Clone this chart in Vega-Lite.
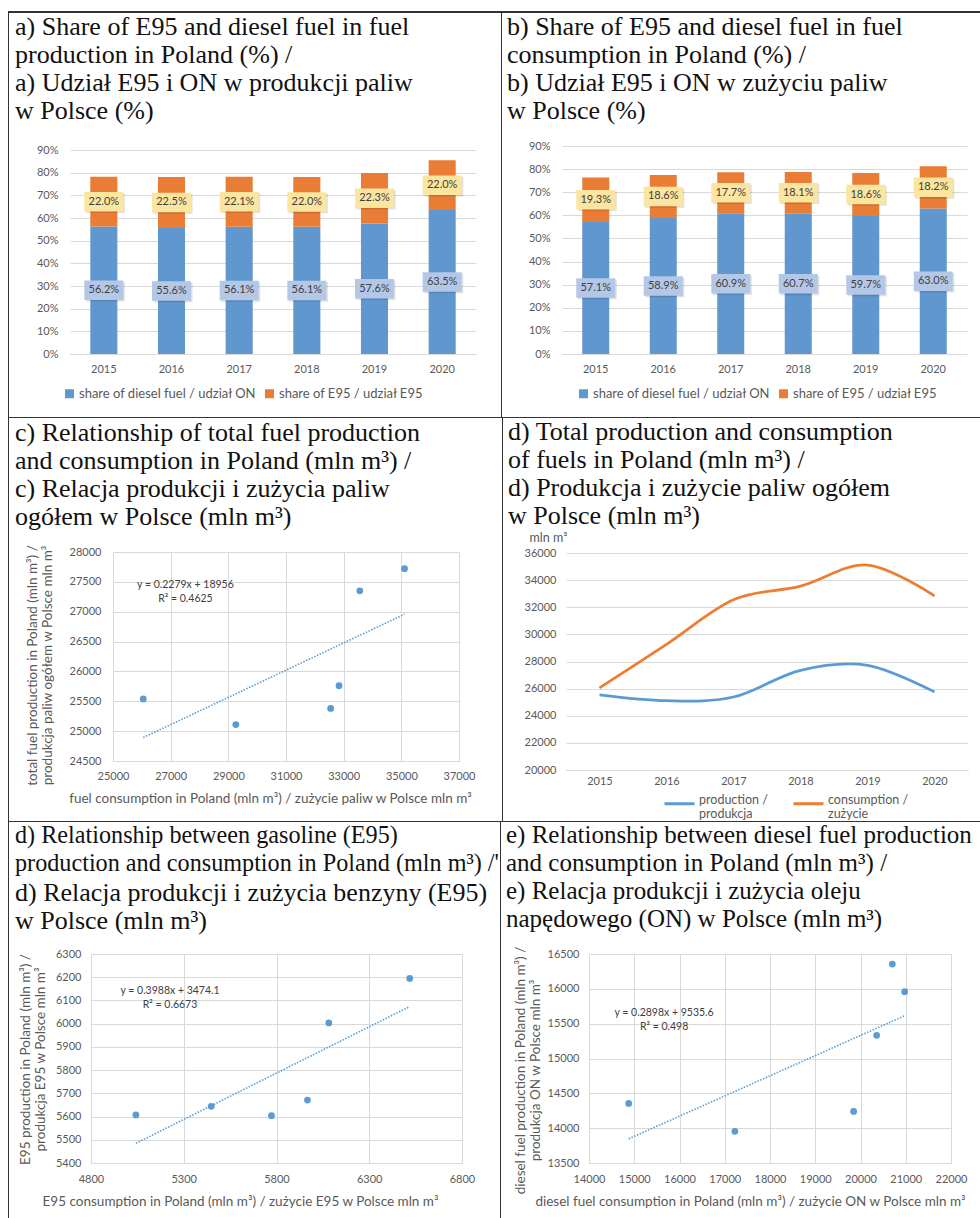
{
"$schema": "https://vega.github.io/schema/vega-lite/v6.json",
"background": "white",
"padding": {"left": 8, "top": 11, "right": 0, "bottom": 0},
"config": {
  "view": {"stroke": null},
  "font": "Lato",
  "title": {"font": "Liberation Serif", "fontSize": 26, "fontWeight": "normal", "color": "#111111", "anchor": "start", "frame": "group", "lineHeight": 28, "subtitleFont": "Liberation Serif", "subtitleFontSize": 26, "subtitleLineHeight": 28, "subtitleColor": "#111111", "subtitleFontWeight": "normal"},
  "axis": {"labelFont": "Lato", "titleFont": "Lato", "labelFontSize": 11, "titleFontSize": 13.5, "titleFontWeight": "normal", "labelColor": "#595959", "titleColor": "#595959", "gridColor": "#D9D9D9", "domainColor": "#D9D9D9", "ticks": false, "tickSize": 0, "titleLineHeight": 15, "labelOverlap": false, "labelFlush": false, "tickCount": 20},
  "legend": {"labelFont": "Lato", "labelFontSize": 13, "labelColor": "#595959", "labelLimit": 400}
},
"datasets": {
  "prodShare": [
    {"year": "2015", "series": "share of diesel fuel / udział ON", "share": 0.562},
    {"year": "2015", "series": "share of E95 / udział E95", "share": 0.220},
    {"year": "2016", "series": "share of diesel fuel / udział ON", "share": 0.556},
    {"year": "2016", "series": "share of E95 / udział E95", "share": 0.225},
    {"year": "2017", "series": "share of diesel fuel / udział ON", "share": 0.561},
    {"year": "2017", "series": "share of E95 / udział E95", "share": 0.221},
    {"year": "2018", "series": "share of diesel fuel / udział ON", "share": 0.561},
    {"year": "2018", "series": "share of E95 / udział E95", "share": 0.220},
    {"year": "2019", "series": "share of diesel fuel / udział ON", "share": 0.576},
    {"year": "2019", "series": "share of E95 / udział E95", "share": 0.223},
    {"year": "2020", "series": "share of diesel fuel / udział ON", "share": 0.635},
    {"year": "2020", "series": "share of E95 / udział E95", "share": 0.220}
  ],
  "consShare": [
    {"year": "2015", "series": "share of diesel fuel / udział ON", "share": 0.571},
    {"year": "2015", "series": "share of E95 / udział E95", "share": 0.193},
    {"year": "2016", "series": "share of diesel fuel / udział ON", "share": 0.589},
    {"year": "2016", "series": "share of E95 / udział E95", "share": 0.186},
    {"year": "2017", "series": "share of diesel fuel / udział ON", "share": 0.609},
    {"year": "2017", "series": "share of E95 / udział E95", "share": 0.177},
    {"year": "2018", "series": "share of diesel fuel / udział ON", "share": 0.607},
    {"year": "2018", "series": "share of E95 / udział E95", "share": 0.181},
    {"year": "2019", "series": "share of diesel fuel / udział ON", "share": 0.597},
    {"year": "2019", "series": "share of E95 / udział E95", "share": 0.186},
    {"year": "2020", "series": "share of diesel fuel / udział ON", "share": 0.630},
    {"year": "2020", "series": "share of E95 / udział E95", "share": 0.182}
  ],
  "totals": [
    {"year": "2015", "production": 25540, "consumption": 26050},
    {"year": "2016", "production": 25110, "consumption": 29260},
    {"year": "2017", "production": 25380, "consumption": 32550},
    {"year": "2018", "production": 27350, "consumption": 33560},
    {"year": "2019", "production": 27720, "consumption": 35110},
    {"year": "2020", "production": 25760, "consumption": 32840}
  ],
  "totalsLong": [
    {"year": "2015", "series": "production / produkcja", "value": 25540},
    {"year": "2016", "series": "production / produkcja", "value": 25110},
    {"year": "2017", "series": "production / produkcja", "value": 25380},
    {"year": "2018", "series": "production / produkcja", "value": 27350},
    {"year": "2019", "series": "production / produkcja", "value": 27720},
    {"year": "2020", "series": "production / produkcja", "value": 25760},
    {"year": "2015", "series": "consumption / zużycie", "value": 26050},
    {"year": "2016", "series": "consumption / zużycie", "value": 29260},
    {"year": "2017", "series": "consumption / zużycie", "value": 32550},
    {"year": "2018", "series": "consumption / zużycie", "value": 33560},
    {"year": "2019", "series": "consumption / zużycie", "value": 35110},
    {"year": "2020", "series": "consumption / zużycie", "value": 32840}
  ],
  "e95": [
    {"year": "2015", "consumption": 5042, "production": 5607},
    {"year": "2016", "consumption": 5448, "production": 5644},
    {"year": "2017", "consumption": 5773, "production": 5604},
    {"year": "2020", "consumption": 5967, "production": 5671},
    {"year": "2018", "consumption": 6082, "production": 6003},
    {"year": "2019", "consumption": 6518, "production": 6195}
  ],
  "diesel": [
    {"year": "2015", "consumption": 14878, "production": 14355},
    {"year": "2016", "consumption": 17223, "production": 13954},
    {"year": "2017", "consumption": 19848, "production": 14241},
    {"year": "2018", "consumption": 20357, "production": 15332},
    {"year": "2020", "consumption": 20703, "production": 16356},
    {"year": "2019", "consumption": 20976, "production": 15959}
  ]
},
"resolve": {"scale": {"color": "independent", "fill": "independent"}},
"spacing": 0,
"vconcat": [
  {"width": 972, "height": 2, "data": {"values": []}, "mark": "point", "view": {"fill": "#333333", "stroke": null}},
  {"spacing": 0, "resolve": {"scale": {"color": "independent", "fill": "independent"}},
   "hconcat": [
    {"width": 1, "height": 404, "data": {"values": []}, "mark": "point", "view": {"fill": "#333333", "stroke": null}},
    {"width": 6, "height": 1, "data": {"values": []}, "mark": "point"},
    {"spacing": 0, "resolve": {"scale": {"color": "independent", "fill": "independent"}},
     "vconcat": [
      {"width": 1, "height": 1, "data": {"values": []}, "mark": "point"},
      {
        "width": 406, "height": 204,
        "title": {"text": ["a) Share of E95 and diesel fuel in fuel", "production in Poland (%) /", "a) Udział E95 i ON w produkcji paliw", "w Polsce (%)"], "dx": -55, "offset": 20},
        "data": {"name": "prodShare"},
        "transform": [
          {"window": [{"op": "sum", "field": "share", "as": "cum"}], "groupby": ["year"], "sort": [{"field": "series", "order": "descending"}]},
          {"window": [{"op": "sum", "field": "cum", "as": "cum2"}], "groupby": ["year"], "sort": [{"field": "series", "order": "descending"}]}
        ],
        "encoding": {"x": {"field": "year", "type": "ordinal", "scale": {"paddingInner": 0.6, "paddingOuter": 0.3}, "axis": {"title": null, "labelAngle": 0, "grid": false, "labelPadding": 9}}},
        "layer": [
          {"mark": {"type": "bar"},
           "encoding": {
             "y": {"field": "share", "type": "quantitative", "stack": "zero", "scale": {"domain": [0, 0.9], "nice": false}, "axis": {"title": null, "format": ".0%", "values": [0, 0.1, 0.2, 0.3, 0.4, 0.5, 0.6, 0.7, 0.8, 0.9], "domain": false, "labelPadding": 12}},
             "color": {"field": "series", "type": "nominal", "scale": {"domain": ["share of diesel fuel / udział ON", "share of E95 / udział E95"], "range": ["#6097CE", "#E97D35"]}, "legend": {"orient": "none", "legendX": -7, "legendY": 237, "direction": "horizontal", "title": null, "symbolType": "square", "symbolSize": 81, "columnPadding": 6, "labelOffset": 3}},
             "order": {"field": "series", "sort": "descending"}}},
          {"mark": {"type": "point", "shape": "M-0.92,-0.42H1.08V0.58H-0.92Z", "size": 1521, "filled": true, "color": "#000000", "opacity": 0.12, "strokeWidth": 0},
           "encoding": {"y": {"field": "cum2", "type": "quantitative", "scale": {"domain": [0, 1.8], "nice": false}, "axis": null}}},
          {"mark": {"type": "point", "shape": "M-1,-0.5H1V0.5H-1Z", "size": 1521, "filled": true, "opacity": 1, "strokeWidth": 0},
           "encoding": {"y": {"field": "cum2", "type": "quantitative", "scale": {"domain": [0, 1.8], "nice": false}, "axis": null},
             "fill": {"field": "series", "type": "nominal", "scale": {"domain": ["share of diesel fuel / udział ON", "share of E95 / udział E95"], "range": ["#B4C7E7", "#FBE59F"]}, "legend": null}}},
          {"mark": {"type": "text", "font": "Lato", "fontSize": 11, "color": "#404040", "baseline": "middle"},
           "encoding": {"y": {"field": "cum2", "type": "quantitative", "scale": {"domain": [0, 1.8], "nice": false}, "axis": null},
             "text": {"field": "share", "type": "quantitative", "format": ".1%"}}}
        ],
        "resolve": {"scale": {"y": "independent"}}
      }
     ]},
    {"width": 25, "height": 1, "data": {"values": []}, "mark": "point"},
    {"width": 1, "height": 404, "data": {"values": []}, "mark": "point", "view": {"fill": "#333333", "stroke": null}},
    {"width": 5, "height": 1, "data": {"values": []}, "mark": "point"},
    {"spacing": 0, "resolve": {"scale": {"color": "independent", "fill": "independent"}},
     "vconcat": [
      {"width": 1, "height": 1, "data": {"values": []}, "mark": "point"},
      {
        "width": 405, "height": 208,
        "title": {"text": ["b) Share of E95 and diesel fuel in fuel", "consumption in Poland (%) /", "b) Udział E95 i ON w zużyciu paliw", "w Polsce (%)"], "dx": -55, "offset": 16},
        "data": {"name": "consShare"},
        "transform": [
          {"window": [{"op": "sum", "field": "share", "as": "cum"}], "groupby": ["year"], "sort": [{"field": "series", "order": "descending"}]},
          {"window": [{"op": "sum", "field": "cum", "as": "cum2"}], "groupby": ["year"], "sort": [{"field": "series", "order": "descending"}]}
        ],
        "encoding": {"x": {"field": "year", "type": "ordinal", "scale": {"paddingInner": 0.6, "paddingOuter": 0.3}, "axis": {"title": null, "labelAngle": 0, "grid": false, "labelPadding": 9}}},
        "layer": [
          {"mark": {"type": "bar"},
           "encoding": {
             "y": {"field": "share", "type": "quantitative", "stack": "zero", "scale": {"domain": [0, 0.9], "nice": false}, "axis": {"title": null, "format": ".0%", "values": [0, 0.1, 0.2, 0.3, 0.4, 0.5, 0.6, 0.7, 0.8, 0.9], "domain": false, "labelPadding": 12}},
             "color": {"field": "series", "type": "nominal", "scale": {"domain": ["share of diesel fuel / udział ON", "share of E95 / udział E95"], "range": ["#6097CE", "#E97D35"]}, "legend": {"orient": "none", "legendX": 15, "legendY": 241, "direction": "horizontal", "title": null, "symbolType": "square", "symbolSize": 81, "columnPadding": 6, "labelOffset": 3}},
             "order": {"field": "series", "sort": "descending"}}},
          {"mark": {"type": "point", "shape": "M-0.92,-0.42H1.08V0.58H-0.92Z", "size": 1521, "filled": true, "color": "#000000", "opacity": 0.12, "strokeWidth": 0},
           "encoding": {"y": {"field": "cum2", "type": "quantitative", "scale": {"domain": [0, 1.8], "nice": false}, "axis": null}}},
          {"mark": {"type": "point", "shape": "M-1,-0.5H1V0.5H-1Z", "size": 1521, "filled": true, "opacity": 1, "strokeWidth": 0},
           "encoding": {"y": {"field": "cum2", "type": "quantitative", "scale": {"domain": [0, 1.8], "nice": false}, "axis": null},
             "fill": {"field": "series", "type": "nominal", "scale": {"domain": ["share of diesel fuel / udział ON", "share of E95 / udział E95"], "range": ["#B4C7E7", "#FBE59F"]}, "legend": null}}},
          {"mark": {"type": "text", "font": "Lato", "fontSize": 11, "color": "#404040", "baseline": "middle"},
           "encoding": {"y": {"field": "cum2", "type": "quantitative", "scale": {"domain": [0, 1.8], "nice": false}, "axis": null},
             "text": {"field": "share", "type": "quantitative", "format": ".1%"}}}
        ],
        "resolve": {"scale": {"y": "independent"}}
      }
     ]}
   ]},
  {"width": 972, "height": 1, "data": {"values": []}, "mark": "point", "view": {"fill": "#333333", "stroke": null}},
  {"spacing": 0, "resolve": {"scale": {"color": "independent", "fill": "independent"}},
   "hconcat": [
    {"width": 1, "height": 403, "data": {"values": []}, "mark": "point", "view": {"fill": "#333333", "stroke": null}},
    {"width": 6, "height": 1, "data": {"values": []}, "mark": "point"},
    {"spacing": 0, "resolve": {"scale": {"color": "independent", "fill": "independent"}},
     "vconcat": [
      {"width": 1, "height": 1, "data": {"values": []}, "mark": "point"},
      {
        "width": 346, "height": 209,
        "title": {"text": ["c) Relationship of total fuel production", "and consumption in Poland (mln m³) /", "c) Relacja produkcji i zużycia paliw", "ogółem w Polsce (mln m³)"], "dx": -98, "offset": 15},
        "layer": [
          {"data": {"name": "totals"}, "mark": {"type": "circle", "size": 46, "color": "#5B9BD5", "opacity": 1},
           "encoding": {
             "x": {"field": "consumption", "type": "quantitative", "scale": {"domain": [25000, 37000], "nice": false, "zero": false}, "axis": {"values": [25000, 27000, 29000, 31000, 33000, 35000, 37000], "tickCount": 20, "format": "d", "title": "fuel consumption in Poland (mln m³) / zużycie paliw w Polsce mln m³", "titlePadding": 10, "labelPadding": 9, "titleX": 157}},
             "y": {"field": "production", "type": "quantitative", "scale": {"domain": [24500, 28000], "nice": false, "zero": false}, "axis": {"values": [24500, 25000, 25500, 26000, 26500, 27000, 27500, 28000], "tickCount": 20, "format": "d", "title": ["total fuel production in Poland (mln m³) /", "produkcja paliw ogółem w Polsce mln m³"], "titlePadding": 15, "labelPadding": 12, "titleY": 113}}}},
          {"data": {"values": [{"consumption": 26050, "production": 24893}, {"consumption": 35110, "production": 26958}]},
           "mark": {"type": "line", "strokeDash": [1.5, 1.5], "strokeWidth": 1.6, "color": "#5B9BD5"},
           "encoding": {"x": {"field": "consumption", "type": "quantitative", "axis": {"tickCount": 20}}, "y": {"field": "production", "type": "quantitative", "axis": {"tickCount": 20}}}},
          {"data": {"values": [{}]},
           "mark": {"type": "text", "font": "Lato", "fontSize": 10.5, "color": "#404040", "lineHeight": 14, "align": "center", "baseline": "middle"},
           "encoding": {"x": {"datum": 27511, "axis": {"tickCount": 20}}, "y": {"datum": 27450, "axis": {"tickCount": 20}}, "text": {"value": ["y = 0.2279x + 18956", "R² = 0.4625"]}}}
        ]
      }
     ]},
    {"width": 27, "height": 1, "data": {"values": []}, "mark": "point"},
    {"width": 1, "height": 403, "data": {"values": []}, "mark": "point", "view": {"fill": "#333333", "stroke": null}},
    {"width": 5, "height": 1, "data": {"values": []}, "mark": "point"},
    {"spacing": 0, "resolve": {"scale": {"color": "independent", "fill": "independent"}},
     "vconcat": [
      {"width": 1, "height": 1, "data": {"values": []}, "mark": "point"},
      {
        "width": 402, "height": 217,
        "title": {"text": ["d) Total production and consumption", "of fuels in Poland (mln m³) /", "d) Produkcja i zużycie paliw ogółem", "w Polsce (mln m³)"], "dx": -58, "offset": 2},
        "data": {"name": "totalsLong"},
        "mark": {"type": "line", "interpolate": "cardinal", "strokeWidth": 2.75},
        "encoding": {
          "x": {"field": "year", "type": "ordinal", "scale": {"type": "point", "padding": 0.5}, "axis": {"title": null, "labelAngle": 0, "grid": false, "labelPadding": 5}},
          "y": {"field": "value", "type": "quantitative", "scale": {"domain": [20000, 36000], "nice": false, "zero": false}, "axis": {"values": [20000, 22000, 24000, 26000, 28000, 30000, 32000, 34000, 36000], "format": "d", "domain": false, "labelPadding": 10, "title": "mln m³", "titleFontSize": 12.5, "titleAngle": 0, "titleAlign": "left", "titleBaseline": "alphabetic", "titleX": -37, "titleY": -12}},
          "color": {"field": "series", "type": "nominal", "scale": {"domain": ["production / produkcja", "consumption / zużycie"], "range": ["#5B9BD5", "#ED7D31"]}, "legend": {"orient": "none", "legendX": 97, "legendY": 234, "direction": "horizontal", "title": null, "symbolType": "stroke", "symbolSize": 900, "symbolStrokeWidth": 3, "columnPadding": 19, "labelOffset": 3, "labelFontSize": 12.5, "labelBaseline": "alphabetic", "labelLineHeight": 13, "labelExpr": "split(replace(datum.label, ' / ', ' /|'), '|')"}}
        }
      }
     ]}
   ]},
  {"width": 972, "height": 1, "data": {"values": []}, "mark": "point", "view": {"fill": "#333333", "stroke": null}},
  {"spacing": 0, "resolve": {"scale": {"color": "independent", "fill": "independent"}},
   "hconcat": [
    {"width": 1, "height": 396, "data": {"values": []}, "mark": "point", "view": {"fill": "#333333", "stroke": null}},
    {"width": 6, "height": 1, "data": {"values": []}, "mark": "point"},
    {"spacing": 0, "resolve": {"scale": {"color": "independent", "fill": "independent"}},
     "vconcat": [
      {"width": 1, "height": 1, "data": {"values": []}, "mark": "point"},
      {
        "width": 371, "height": 209,
        "title": {"text": ["d) Relationship between gasoline (E95)", "production and consumption in Poland (mln m³) /'"], "fontSize": 24.2, "subtitle": ["d) Relacja produkcji i zużycia benzyny (E95)", "w Polsce (mln m³)"], "subtitlePadding": 4, "dx": -76, "offset": 14},
        "layer": [
          {"data": {"name": "e95"}, "mark": {"type": "circle", "size": 46, "color": "#5B9BD5", "opacity": 1},
           "encoding": {
             "x": {"field": "consumption", "type": "quantitative", "scale": {"domain": [4800, 6800], "nice": false, "zero": false}, "axis": {"values": [4800, 5300, 5800, 6300, 6800], "tickCount": 20, "format": "d", "title": "E95 consumption in Poland (mln m³) / zużycie E95 w Polsce mln m³", "titlePadding": 10, "labelPadding": 10, "titleX": 149}},
             "y": {"field": "production", "type": "quantitative", "scale": {"domain": [5400, 6300], "nice": false, "zero": false}, "axis": {"values": [5400, 5500, 5600, 5700, 5800, 5900, 6000, 6100, 6200, 6300], "tickCount": 20, "format": "d", "title": ["E95 production in Poland (mln m³) /", "produkcja E95 w Polsce mln m³"], "titlePadding": 8, "labelPadding": 10, "titleY": 105}}}},
          {"data": {"values": [{"consumption": 5042, "production": 5484.8}, {"consumption": 6518, "production": 6073.5}]},
           "mark": {"type": "line", "strokeDash": [1.5, 1.5], "strokeWidth": 1.6, "color": "#5B9BD5"},
           "encoding": {"x": {"field": "consumption", "type": "quantitative", "axis": {"tickCount": 20}}, "y": {"field": "production", "type": "quantitative", "axis": {"tickCount": 20}}}},
          {"data": {"values": [{}]},
           "mark": {"type": "text", "font": "Lato", "fontSize": 10.5, "color": "#404040", "lineHeight": 14, "align": "center", "baseline": "middle"},
           "encoding": {"x": {"datum": 5226, "axis": {"tickCount": 20}}, "y": {"datum": 6141, "axis": {"tickCount": 20}}, "text": {"value": ["y = 0.3988x + 3474.1", "R² = 0.6673"]}}}
        ]
      }
     ]},
    {"width": 1, "height": 1, "data": {"values": []}, "mark": "point"},
    {"width": 1, "height": 396, "data": {"values": []}, "mark": "point", "view": {"fill": "#333333", "stroke": null}},
    {"width": 5, "height": 1, "data": {"values": []}, "mark": "point"},
    {"spacing": 0, "resolve": {"scale": {"color": "independent", "fill": "independent"}},
     "vconcat": [
      {"width": 1, "height": 1, "data": {"values": []}, "mark": "point"},
      {
        "width": 362, "height": 209,
        "title": {"text": ["e) Relationship between diesel fuel production", "and consumption in Poland (mln m³) /", "e) Relacja produkcji i zużycia oleju", "napędowego (ON) w Polsce (mln m³)"], "fontSize": 25, "dx": -83, "offset": 14},
        "layer": [
          {"data": {"name": "diesel"}, "mark": {"type": "circle", "size": 46, "color": "#5B9BD5", "opacity": 1},
           "encoding": {
             "x": {"field": "consumption", "type": "quantitative", "scale": {"domain": [14000, 22000], "nice": false, "zero": false}, "axis": {"values": [14000, 15000, 16000, 17000, 18000, 19000, 20000, 21000, 22000], "tickCount": 20, "format": "d", "title": "diesel fuel consumption in Poland (mln m³) / zużycie ON w Polsce mln m³", "titlePadding": 10, "labelPadding": 10, "titleX": 161}},
             "y": {"field": "production", "type": "quantitative", "scale": {"domain": [13500, 16500], "nice": false, "zero": false}, "axis": {"values": [13500, 14000, 14500, 15000, 15500, 16000, 16500], "tickCount": 20, "format": "d", "title": ["diesel fuel production in Poland (mln m³) /", "produkcja ON w Polsce mln m³"], "titlePadding": 5, "labelPadding": 10, "titleY": 116}}}},
          {"data": {"values": [{"consumption": 14878, "production": 13847}, {"consumption": 20976, "production": 15614}]},
           "mark": {"type": "line", "strokeDash": [1.5, 1.5], "strokeWidth": 1.6, "color": "#5B9BD5"},
           "encoding": {"x": {"field": "consumption", "type": "quantitative", "axis": {"tickCount": 20}}, "y": {"field": "production", "type": "quantitative", "axis": {"tickCount": 20}}}},
          {"data": {"values": [{}]},
           "mark": {"type": "text", "font": "Lato", "fontSize": 10.5, "color": "#404040", "lineHeight": 14, "align": "center", "baseline": "middle"},
           "encoding": {"x": {"datum": 15659, "axis": {"tickCount": 20}}, "y": {"datum": 15650, "axis": {"tickCount": 20}}, "text": {"value": ["y = 0.2898x + 9535.6", "R² = 0.498"]}}}
        ]
      }
     ]}
   ]}
]
}
